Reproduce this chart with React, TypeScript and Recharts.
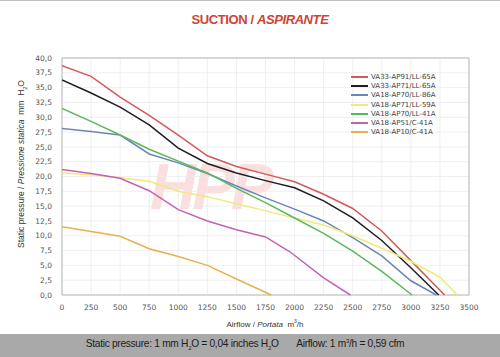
import React from "react";
import { LineChart, Line, XAxis, YAxis, CartesianGrid, ReferenceArea } from "recharts";

const xTicks = [0, 250, 500, 750, 1000, 1250, 1500, 1750, 2000, 2250, 2500, 2750, 3000, 3250, 3500];
const yTicks = [0, 2.5, 5, 7.5, 10, 12.5, 15, 17.5, 20, 22.5, 25, 27.5, 30, 32.5, 35, 37.5, 40];

const names = [
  "VA33-AP91/LL-65A",
  "VA33-AP71/LL-65A",
  "VA18-AP70/LL-86A",
  "VA18-AP71/LL-59A",
  "VA18-AP70/LL-41A",
  "VA18-AP51/C-41A",
  "VA18-AP10/C-41A",
];
const colors = ["#d25a5a", "#1e1e1e", "#6a86b8", "#efeb7a", "#5cb85c", "#c462b4", "#e6b24e"];

const redFlow = [0, 250, 500, 750, 1000, 1250, 1500, 1750, 2000, 2250, 2500, 2750, 3000, 3250, 3290];
const redP = [38.7, 36.9, 33.4, 30.3, 27.0, 23.5, 21.7, 20.4, 19.1, 17.0, 14.6, 10.8, 5.8, 0.8, 0];

const blackFlow = [0, 250, 500, 750, 1000, 1250, 1500, 1750, 2000, 2250, 2500, 2750, 3000, 3240];
const blackP = [36.3, 34.1, 31.7, 28.7, 24.8, 22.2, 20.6, 19.3, 18.1, 15.9, 13.0, 9.2, 4.6, 0];

const blueFlow = [0, 250, 500, 750, 1000, 1250, 1500, 1750, 2000, 2250, 2500, 2750, 3000, 3220];
const blueP = [28.1, 27.6, 27.0, 23.8, 22.3, 20.5, 18.4, 16.4, 14.5, 12.5, 9.7, 6.6, 2.4, 0];

const yellowFlow = [0, 250, 500, 750, 1000, 1250, 1500, 1750, 2000, 2250, 2500, 2750, 3000, 3250, 3400];
const yellowP = [20.6, 20.3, 19.8, 19.2, 17.5, 16.6, 15.4, 14.2, 13.0, 11.8, 10.0, 7.9, 5.7, 3.0, 0];

const greenFlow = [0, 250, 500, 750, 1000, 1250, 1500, 1750, 2000, 2250, 2500, 2750, 3010];
const greenP = [31.5, 29.3, 27.0, 24.6, 22.6, 20.6, 18.0, 15.6, 13.0, 10.4, 7.4, 4.0, 0];

const purpleFlow = [0, 250, 500, 750, 1000, 1250, 1500, 1750, 1960, 2250, 2480];
const purpleP = [21.2, 20.5, 19.7, 17.6, 14.4, 12.5, 11.0, 9.8, 7.3, 2.9, 0];

const orangeFlow = [0, 250, 500, 750, 1000, 1250, 1500, 1800];
const orangeP = [11.5, 10.7, 9.9, 7.8, 6.5, 5.0, 2.7, 0];

const flows = [redFlow, blackFlow, blueFlow, yellowFlow, greenFlow, purpleFlow, orangeFlow];
const pressures = [redP, blackP, blueP, yellowP, greenP, purpleP, orangeP];

const series = names.map((name, i) => ({
  name,
  color: colors[i],
  data: flows[i].map((q, j) => ({ q, p: pressures[i][j] })),
}));

const fmt = (v: number) => v.toFixed(1).replace(".", ",");

export default function App() {
  return (
    <div
      style={{
        position: "absolute",
        left: 0,
        top: 0,
        width: 500,
        height: 357,
        background: "#ffffff",
        overflow: "hidden",
        fontFamily: "'Liberation Sans', Arial, sans-serif",
      }}
    >
      <div style={{ position: "absolute", left: 0, top: 0, width: 500, height: 1, background: "#bdbdbd" }} />
      <div
        style={{
          position: "absolute",
          left: 0,
          top: 12,
          width: 520,
          textAlign: "center",
          color: "#cf4436",
          fontWeight: "bold",
          fontSize: 13,
          letterSpacing: -0.4,
        }}
      >
        SUCTION / <i>ASPIRANTE</i>
      </div>
      <div
        style={{
          position: "absolute",
          left: 150,
          top: 150,
          fontSize: 64,
          fontStyle: "italic",
          fontWeight: "bold",
          color: "rgba(235, 90, 90, 0.2)",
          letterSpacing: -4,
        }}
      >
        HPP
      </div>
      <div style={{ position: "absolute", left: 0, top: 0 }}>
        <LineChart width={500} height={357} margin={{ top: 58, right: 31, left: 0, bottom: 32 }}>
          <CartesianGrid stroke="#ebebeb" strokeWidth={0.8} />
          <XAxis
            dataKey="q"
            type="number"
            domain={[0, 3500]}
            ticks={xTicks}
            interval={0}
            height={30}
            axisLine={false}
            tickLine={false}
            tick={{ fontSize: 7.5, fill: "#555", fontFamily: "'DejaVu Sans', sans-serif" }}
            tickMargin={4}
            allowDataOverflow
          />
          <YAxis
            dataKey="p"
            type="number"
            domain={[0, 40]}
            ticks={yTicks}
            interval={0}
            width={62}
            axisLine={false}
            tickLine={false}
            tickFormatter={fmt}
            tick={{ fontSize: 7.5, fill: "#555", fontFamily: "'DejaVu Sans', sans-serif" }}
            tickMargin={4}
          />
          <ReferenceArea x1={0} x2={3500} y1={0} y2={40} fill="none" stroke="#b8b8b8" strokeWidth={1} ifOverflow="visible" />
          {series.map((s) => (
            <Line
              key={s.name}
              data={s.data}
              dataKey="p"
              name={s.name}
              type="linear"
              stroke={s.color}
              strokeWidth={1.5}
              dot={false}
              activeDot={false}
              isAnimationActive={false}
            />
          ))}
        </LineChart>
      </div>
      <div
        style={{
          position: "absolute",
          left: 351,
          top: 72,
          fontFamily: "'DejaVu Sans', sans-serif",
          fontSize: 7,
          color: "#444",
        }}
      >
        {series.map((s) => (
          <div key={s.name} style={{ display: "flex", alignItems: "center", whiteSpace: "nowrap", height: 9.3 }}>
            <div style={{ width: 17, height: 2, background: s.color, marginRight: 3, flexShrink: 0 }} />
            <span>{s.name}</span>
          </div>
        ))}
      </div>
      <div
        style={{
          position: "absolute",
          left: 0,
          top: 318,
          width: 530,
          textAlign: "center",
          fontSize: 8,
          color: "#333",
        }}
      >
        Airflow / <i>Portata</i>&nbsp;&nbsp;m<sup style={{ fontSize: 5 }}>3</sup>/h
      </div>
      <div
        style={{
          position: "absolute",
          left: 22 - 110,
          top: 164 - 6,
          width: 220,
          height: 12,
          transform: "rotate(-90deg)",
          textAlign: "center",
          fontSize: 8.5,
          color: "#333",
          whiteSpace: "nowrap",
        }}
      >
        Static pressure / <i>Pressione statica</i>&nbsp;&nbsp;mm&nbsp;&nbsp;H<sub style={{ fontSize: 5.5 }}>2</sub>O
      </div>
      <div
        style={{
          position: "absolute",
          left: 0,
          top: 334,
          width: 500,
          height: 23,
          background: "#a9a9a9",
        }}
      />
      <div
        style={{
          position: "absolute",
          left: 0,
          top: 338,
          width: 490,
          textAlign: "center",
          fontSize: 10.2,
          color: "#1d1d1d",
          whiteSpace: "nowrap",
          letterSpacing: -0.3,
        }}
      >
        Static pressure: 1 mm H<sub style={{ fontSize: 6 }}>2</sub>O = 0,04 inches H<sub style={{ fontSize: 6 }}>2</sub>O
        &nbsp;&nbsp;&nbsp;&nbsp;&nbsp;&nbsp;Airflow: 1 m<sup style={{ fontSize: 6 }}>3</sup>/h = 0,59 cfm
      </div>
    </div>
  );
}
